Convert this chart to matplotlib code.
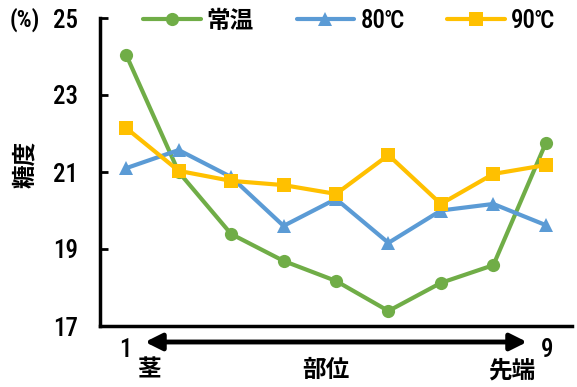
import matplotlib
matplotlib.use("Agg")
import matplotlib.pyplot as plt
from matplotlib.font_manager import FontProperties
from matplotlib.patches import FancyArrowPatch

# Sugar content (%) by position along the stalk, three storage temperatures
positions = [1, 2, 3, 4, 5, 6, 7, 8, 9]
series_names = ["常温", "80℃", "90℃"]
room_temp = [24.04, 21.0, 19.39, 18.69, 18.17, 17.39, 18.12, 18.58, 21.75]
temp_80 = [21.1, 21.57, 20.87, 19.6, 20.3, 19.16, 20.0, 20.17, 19.62]
temp_90 = [22.14, 21.03, 20.77, 20.66, 20.43, 21.44, 20.17, 20.95, 21.18]
y_ticks = [17, 19, 21, 23, 25]

W, H = 577, 387
fig = plt.figure(figsize=(W / 100, H / 100), dpi=100)
ax = fig.add_axes([100 / W, 1 - 326 / H, (572 - 100) / W, (326 - 18) / H])

num_family = ["Roboto Condensed", "Archivo Narrow", "Noto Sans CJK JP", "DejaVu Sans"]
jp_family = ["Noto Sans CJK JP", "DejaVu Sans"]
jp_bold = FontProperties(family=jp_family, weight="bold", size=17)
num_prop = FontProperties(family=num_family, weight="medium", size=18)

styles = [
    (room_temp, "#70AD47", "o", 9.5),
    (temp_80, "#5B9BD5", "^", 10),
    (temp_90, "#FFC000", "s", 10),
]
for (vals, color, marker, ms), name in zip(styles, series_names):
    ax.plot(positions, vals, color=color, lw=3, marker=marker, ms=ms,
            markeredgewidth=0, label=name, solid_capstyle="round", clip_on=False)

ax.set_xlim(0.5, 9.5)
ax.set_ylim(17, 25)
ax.set_yticks(y_ticks)
ax.set_xticks([])
for lab in ax.get_yticklabels():
    lab.set_fontproperties(num_prop)
ax.tick_params(axis="y", direction="in", length=6, width=2, pad=16)
for s in ["top", "right"]:
    ax.spines[s].set_visible(False)
for s in ["left", "bottom"]:
    ax.spines[s].set_linewidth(2.5)
    ax.spines[s].set_capstyle("projecting")

leg = ax.legend(loc="upper left", bbox_to_anchor=(143 / W, 1 - 9 / H),
                bbox_transform=fig.transFigure, ncol=3, frameon=False,
                handlelength=2.3, handletextpad=0.25, columnspacing=1.7,
                borderaxespad=0, borderpad=0, prop=num_prop)
leg.get_texts()[0].set_fontproperties(jp_bold)

# axis captions
fig.text(25 / W, 1 - 164 / H, "糖度", rotation=90, ha="center", va="center",
         fontproperties=jp_bold)
fig.text(25 / W, 1 - 20 / H, "(%)", ha="center", va="center",
         fontproperties=FontProperties(family=num_family, weight="bold", size=17))
fig.text(125 / W, 1 - 350 / H, "1", ha="center", va="center", fontproperties=num_prop)
fig.text(547 / W, 1 - 350 / H, "9", ha="center", va="center", fontproperties=num_prop)
fig.text(149 / W, 1 - 370 / H, "茎", ha="center", va="center", fontproperties=jp_bold)
fig.text(326 / W, 1 - 370 / H, "部位", ha="center", va="center", fontproperties=jp_bold)
fig.text(512 / W, 1 - 370 / H, "先端", ha="center", va="center", fontproperties=jp_bold)

# double-headed direction arrow under the axis
fig.add_artist(FancyArrowPatch(
    (145 / W, 1 - 342 / H), (527 / W, 1 - 342 / H), transform=fig.transFigure,
    arrowstyle="<|-|>,head_length=10,head_width=5", lw=3.5, color="black",
    mutation_scale=1, shrinkA=0, shrinkB=0))

fig.savefig("out.png", dpi=100)
